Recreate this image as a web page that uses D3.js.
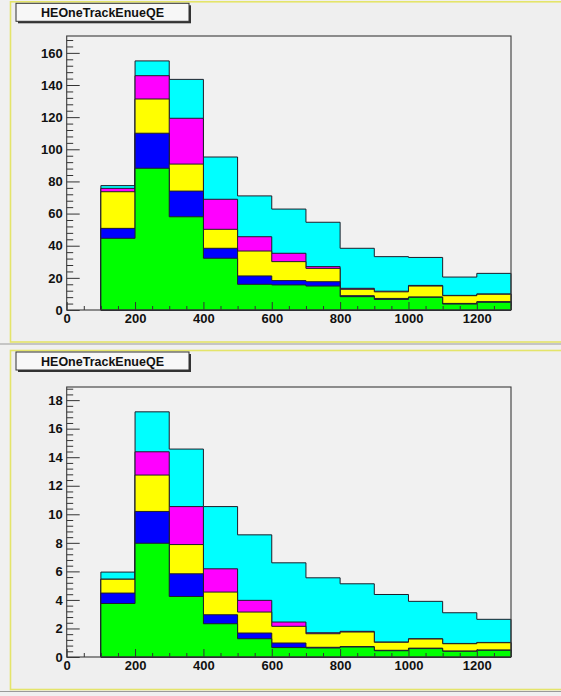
<!DOCTYPE html>
<html>
<head>
<meta charset="utf-8">
<script src="https://cdn.jsdelivr.net/npm/d3@7"></script>
<style>
  html, body { margin: 0; padding: 0; background: #f0f0f0; }
  svg { display: block; }
  text { font-family: "Liberation Sans", Arial, Helvetica, sans-serif; font-weight: bold; }
</style>
</head>
<body>
<svg id="chart" width="561" height="696"></svg>
<script>
// ---- data ----
const title = "HEOneTrackEnueQE";
const binEdges = [100, 200, 300, 400, 500, 600, 700, 800, 900, 1000, 1100, 1200, 1300];
const seriesColors = ["#00ff00", "#0000ff", "#ffff00", "#ff00ff", "#00ffff"]; // stacked bottom -> top

// top pad (per-series contribution per bin)
const topGreen   = [44.6, 88.2, 58.0, 32.2, 16.0, 15.6, 14.9, 8.3, 6.6, 7.9, 3.7, 4.8];
const topBlue    = [6.2, 21.8, 16.0, 6.2, 5.2, 2.7, 2.7, 0.6, 0.6, 0.2, 0.4, 0.4];
const topYellow  = [22.8, 21.3, 16.8, 11.8, 15.5, 11.8, 8.3, 4.0, 4.1, 6.8, 4.8, 4.6];
const topMagenta = [2.1, 14.5, 28.5, 18.7, 8.9, 5.2, 1.1, 0.6, 0.4, 0.4, 0.2, 0.2];
const topCyan    = [1.7, 9.2, 24.2, 26.3, 25.4, 27.5, 27.6, 24.9, 21.5, 17.4, 11.4, 12.8];

// bottom pad
const botGreen   = [3.75, 7.97, 4.24, 2.33, 1.28, 0.66, 0.63, 0.70, 0.44, 0.59, 0.40, 0.47];
const botBlue    = [0.73, 2.23, 1.59, 0.63, 0.40, 0.32, 0.05, 0.03, 0.03, 0.03, 0.02, 0.02];
const botYellow  = [0.97, 2.55, 2.05, 1.59, 1.47, 1.17, 0.95, 1.02, 0.56, 0.64, 0.51, 0.51];
const botMagenta = [0.00, 1.63, 2.66, 1.63, 0.82, 0.30, 0.07, 0.05, 0.02, 0.02, 0.02, 0.02];
const botCyan    = [0.50, 2.80, 4.03, 4.36, 4.59, 4.15, 3.85, 3.33, 3.33, 2.62, 2.15, 1.62];

const xTickLabels = [0, 200, 400, 600, 800, 1000, 1200];
const yTickLabelsTop = [0, 20, 40, 60, 80, 100, 120, 140, 160];
const yTickLabelsBot = [0, 2, 4, 6, 8, 10, 12, 14, 16, 18];

// ---- drawing ----
const svg = d3.select("#chart");

function drawPad(cfg) {
  const g = svg.append("g");
  // pad border (yellowish bevel)
  g.append("rect")
    .attr("x", 10.5).attr("y", cfg.padTop)
    .attr("width", 620).attr("height", cfg.padBottom - cfg.padTop)
    .attr("fill", "#efefef").attr("stroke", "#e4e46a").attr("stroke-width", 1.6);
  g.append("line")
    .attr("x1", 0).attr("x2", 561)
    .attr("y1", cfg.padBottom + 2).attr("y2", cfg.padBottom + 2)
    .attr("stroke", "#9a9a9a").attr("stroke-width", 1.2);

  const x = d3.scaleLinear().domain([0, 1300]).range([66.7, 511]);
  const y = d3.scaleLinear().domain([0, cfg.ymax]).range([cfg.frameBottom, cfg.frameTop]);

  // frame background
  g.append("rect")
    .attr("x", x(0)).attr("y", y(cfg.ymax))
    .attr("width", x(1300) - x(0)).attr("height", y(0) - y(cfg.ymax))
    .attr("fill", "#f1f1f1");

  // stacked cumulative
  const nb = binEdges.length - 1;
  const cums = [];
  let run = new Array(nb).fill(0);
  cfg.series.forEach(s => {
    run = run.map((v, i) => v + s[i]);
    cums.push(run.slice());
  });

  const area = d3.area()
    .curve(d3.curveStepAfter)
    .x(d => x(d.x))
    .y0(y(0))
    .y1(d => y(d.y));

  for (let k = cums.length - 1; k >= 0; k--) {
    const c = cums[k];
    const pts = binEdges.map((e, i) => ({ x: e, y: i < nb ? c[i] : c[nb - 1] }));
    g.append("path")
      .datum(pts)
      .attr("d", area)
      .attr("fill", seriesColors[k])
      .attr("stroke", "#1e1e2a")
      .attr("stroke-width", 1)
      .attr("stroke-linejoin", "miter");
  }

  // axes
  const yMinorStep = cfg.yMajorStep / 5;
  const yMinor = d3.range(0, cfg.ymax + 1e-9, yMinorStep).filter(v => Math.abs(v / cfg.yMajorStep - Math.round(v / cfg.yMajorStep)) > 1e-6);
  const xMinor = d3.range(0, 1300 + 1e-9, 50).filter(v => v % 200 !== 0);

  const yAxis = d3.axisLeft(y).tickValues(cfg.yTicks).tickSizeInner(-13).tickSizeOuter(0).tickPadding(4).tickFormat(d3.format("d"));
  const yAxisMinor = d3.axisLeft(y).tickValues(yMinor).tickSizeInner(-6.5).tickSizeOuter(0).tickFormat("");
  const xAxis = d3.axisBottom(x).tickValues(xTickLabels).tickSizeInner(-8).tickSizeOuter(0).tickPadding(4).tickFormat(d3.format("d"));
  const xAxisMinor = d3.axisBottom(x).tickValues(xMinor).tickSizeInner(-4).tickSizeOuter(0).tickFormat("");

  const ya = g.append("g").attr("transform", `translate(${x(0)},0)`).call(yAxis);
  g.append("g").attr("transform", `translate(${x(0)},0)`).call(yAxisMinor);
  const xa = g.append("g").attr("transform", `translate(0,${y(0)})`).call(xAxis);
  g.append("g").attr("transform", `translate(0,${y(0)})`).call(xAxisMinor);

  g.selectAll(".domain").remove();
  g.selectAll(".tick line").attr("stroke", "#333").attr("stroke-width", 1);
  ya.selectAll("text").attr("font-size", 13).attr("fill", "#111");
  xa.selectAll("text").attr("font-size", 13).attr("fill", "#111");

  // frame
  g.append("rect")
    .attr("x", x(0)).attr("y", y(cfg.ymax))
    .attr("width", x(1300) - x(0)).attr("height", y(0) - y(cfg.ymax))
    .attr("fill", "none").attr("stroke", "#3a3a3a").attr("stroke-width", 1.1);

  // title box
  const bx = 16, by = cfg.padTop + 1.5, bw = 173, bh = 18;
  g.append("rect").attr("x", bx + 2).attr("y", by + 2).attr("width", bw).attr("height", bh).attr("fill", "#333");
  g.append("rect").attr("x", bx).attr("y", by).attr("width", bw).attr("height", bh)
    .attr("fill", "#f7f7f7").attr("stroke", "#333").attr("stroke-width", 1);
  g.append("text").attr("x", bx + bw / 2).attr("y", by + bh / 2 + 4.5)
    .attr("text-anchor", "middle").attr("font-size", 12.5).attr("fill", "#111").text(title);
}

drawPad({
  padTop: 1.8, padBottom: 342,
  frameTop: 36, frameBottom: 310,
  ymax: 170.5, yMajorStep: 20, yTicks: yTickLabelsTop,
  series: [topGreen, topBlue, topYellow, topMagenta, topCyan]
});

drawPad({
  padTop: 350.5, padBottom: 689.5,
  frameTop: 387, frameBottom: 657,
  ymax: 18.92, yMajorStep: 2, yTicks: yTickLabelsBot,
  series: [botGreen, botBlue, botYellow, botMagenta, botCyan]
});
</script>
</body>
</html>
